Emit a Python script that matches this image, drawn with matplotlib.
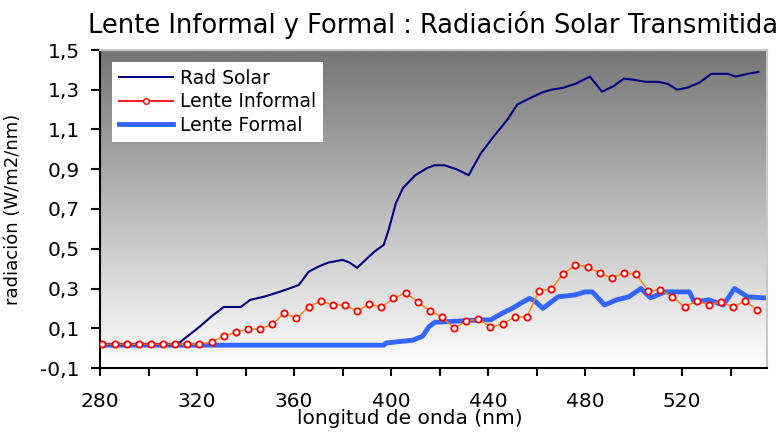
import numpy as np
import matplotlib.pyplot as plt
from matplotlib.lines import Line2D
from matplotlib.ticker import MultipleLocator, FuncFormatter

# datos
rad_x = [280, 290, 300, 310, 313, 321, 326, 331, 338, 342, 348, 354, 358, 362, 366, 370,
         374, 380, 383, 386, 390, 393, 397, 399, 402, 405, 410, 415, 418, 422, 427, 432,
         437, 442, 448, 452, 456, 462, 466, 471, 476, 482, 487, 492, 496, 500, 505, 510,
         514, 518, 522, 527, 532, 539, 542, 547, 551.5]
rad_y = [0.02, 0.02, 0.02, 0.02, 0.03, 0.107, 0.16, 0.207, 0.207, 0.243, 0.26, 0.283, 0.3,
         0.318, 0.384, 0.41, 0.43, 0.444, 0.43, 0.404, 0.45, 0.484, 0.52, 0.595, 0.73, 0.807,
         0.87, 0.907, 0.92, 0.92, 0.9, 0.87, 0.98, 1.06, 1.15, 1.225, 1.25, 1.285, 1.3, 1.31,
         1.33, 1.366, 1.29, 1.32, 1.356, 1.35, 1.34, 1.34, 1.33, 1.3, 1.31, 1.335, 1.38, 1.38,
         1.366, 1.38, 1.39]

inf_x = [281, 286, 291, 296, 301, 306, 311, 316, 321, 326, 331, 336, 341, 346, 351, 356,
         361, 366, 371, 376, 381, 386, 391, 396, 401, 406, 411, 416, 421, 426, 431, 436,
         441, 446, 451, 456, 461, 466, 471, 476, 481, 486, 491, 496, 501, 506, 511, 516,
         521, 526, 531, 536, 541, 546, 551]
inf_y = [0.02, 0.02, 0.02, 0.02, 0.02, 0.02, 0.02, 0.02, 0.02, 0.03, 0.06, 0.08, 0.096,
         0.096, 0.12, 0.177, 0.15, 0.207, 0.238, 0.217, 0.217, 0.187, 0.22, 0.207, 0.25,
         0.278, 0.233, 0.187, 0.157, 0.1, 0.135, 0.147, 0.107, 0.12, 0.157, 0.157, 0.288,
         0.298, 0.373, 0.419, 0.41, 0.378, 0.353, 0.378, 0.373, 0.288, 0.293, 0.258, 0.207,
         0.238, 0.217, 0.233, 0.207, 0.238, 0.192]

for_x = [280, 397, 398, 409, 413, 415.6, 418, 429, 437, 441, 446.5, 450, 453.6, 457, 459,
         462.6, 468.8, 476, 480, 483, 488, 493, 498, 503, 507, 513, 523, 525, 531, 537,
         541.6, 547, 553.6]
for_y = [0.015, 0.015, 0.026, 0.04, 0.06, 0.107, 0.13, 0.137, 0.142, 0.142, 0.18, 0.2,
         0.227, 0.25, 0.24, 0.2, 0.258, 0.268, 0.283, 0.283, 0.217, 0.243, 0.258, 0.3,
         0.253, 0.283, 0.283, 0.233, 0.243, 0.217, 0.3, 0.258, 0.253]

yticks = [-0.1, 0.1, 0.3, 0.5, 0.7, 0.9, 1.1, 1.3, 1.5]

plt.rcParams['font.family'] = ['DejaVu Sans']

fig = plt.figure(figsize=(7.78, 4.32), dpi=100)
ax = fig.add_axes([100 / 778, 1 - 368 / 432, 667 / 778, 318 / 432])

# fondo degradado gris
grad = np.linspace(0, 1, 256).reshape(-1, 1)
ax.imshow(grad, cmap='gray', vmin=-0.85, vmax=1.0, aspect='auto',
          extent=[0, 1, 0, 1], transform=ax.transAxes, zorder=0, origin='upper')

ax.plot(for_x, for_y, color='#3366ff', lw=3.5, zorder=2)
ax.plot(rad_x, rad_y, color='#000080', lw=1.5, zorder=3)
ax.plot(inf_x, inf_y, color='#ff8000', lw=1.0, marker='o', ms=4.5, mfc='white',
        mec='#ff0000', mew=1.3, zorder=4)

ax.set_xlim(280, 555)
ax.set_ylim(-0.1, 1.5)
ax.set_aspect('auto')

ax.set_yticks(yticks)
ax.yaxis.set_major_formatter(FuncFormatter(lambda v, p: ('%.1f' % v).replace('.', ',')))
ax.xaxis.set_major_locator(MultipleLocator(40))
ax.xaxis.set_minor_locator(MultipleLocator(20))

for s in ['left', 'bottom']:
    ax.spines[s].set_linewidth(1.5)
    ax.spines[s].set_color('black')
for s in ['top', 'right']:
    ax.spines[s].set_linewidth(1.5)
    ax.spines[s].set_color('#c8c8c8')

ax.tick_params(axis='y', direction='out', length=6.5, width=1.5, labelsize=14.5, pad=8)
ax.tick_params(axis='x', which='both', direction='out', length=6, width=1.5, labelsize=14.5, pad=11)

ax.set_title('Lente Informal y Formal : Radiación Solar Transmitida', fontsize=18.5, pad=12)
ax.set_ylabel('radiación (W/m2/nm)', fontsize=13)
ax.yaxis.set_label_coords(-0.117, 0.5)
ax.set_xlabel('longitud de onda (nm)', fontsize=14.5)
ax.xaxis.set_label_coords(0.464, -0.13)

handles = [Line2D([], [], color='#000080', lw=1.5),
           Line2D([], [], color='#ff2020', lw=1.5, marker='o', ms=4, mfc='white', mec='#ff0000'),
           Line2D([], [], color='#3366ff', lw=3.5)]
leg = ax.legend(handles, ['Rad Solar', 'Lente Informal', 'Lente Formal'],
                loc='upper left', bbox_to_anchor=(0.018, 0.962), borderaxespad=0,
                fontsize=13.5, frameon=True, fancybox=False, framealpha=1,
                handlelength=2.9, handletextpad=0.4, labelspacing=0.25, borderpad=0.35)
leg.get_frame().set_edgecolor('white')
leg.get_frame().set_linewidth(0)

fig.savefig('out.png', dpi=100)
